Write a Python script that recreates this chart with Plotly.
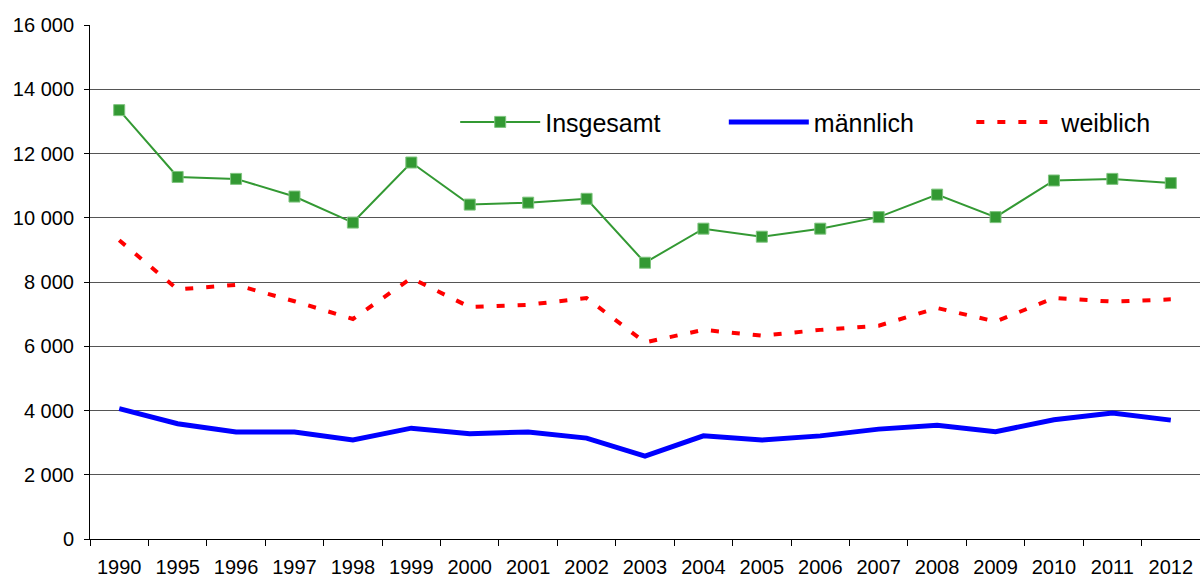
import plotly.graph_objects as go

years = ["1990", "1995", "1996", "1997", "1998", "1999", "2000", "2001", "2002", "2003",
         "2004", "2005", "2006", "2007", "2008", "2009", "2010", "2011", "2012"]
insgesamt = [13350, 11270, 11210, 10660, 9850, 11720, 10410, 10470, 10590, 8600,
             9660, 9410, 9660, 10020, 10720, 10020, 11160, 11210, 11080]
maennlich = [4060, 3590, 3330, 3330, 3080, 3450, 3280, 3330, 3140, 2580,
             3210, 3080, 3210, 3420, 3540, 3340, 3710, 3920, 3700]
weiblich = [9300, 7770, 7910, 7400, 6850, 8120, 7220, 7290, 7500, 6120,
            6510, 6330, 6510, 6640, 7190, 6770, 7500, 7390, 7460]
y_ticks = [0, 2000, 4000, 6000, 8000, 10000, 12000, 14000, 16000]

fig = go.Figure()
fig.add_trace(go.Scatter(
    x=years, y=insgesamt, name="Insgesamt", mode="lines+markers",
    line=dict(color="#339933", width=2),
    marker=dict(symbol="square", size=11, color="#339933",
                line=dict(color="#7fc47f", width=1)),
    legend="legend",
))
fig.add_trace(go.Scatter(
    x=years, y=maennlich, name="männlich", mode="lines",
    line=dict(color="#0000ff", width=5),
    legend="legend2",
))
fig.add_trace(go.Scatter(
    x=years, y=weiblich, name="weiblich", mode="lines",
    line=dict(color="#ff0000", width=4, dash="8px,13px"),
    legend="legend3",
))

legend_style = dict(
    orientation="h", y=0.811, xanchor="left", yanchor="middle",
    bgcolor="rgba(0,0,0,0)", font=dict(size=25), itemwidth=80,
)

fig.update_layout(
    width=1200, height=580,
    margin=dict(l=90, r=0, t=25, b=41),
    paper_bgcolor="white", plot_bgcolor="white",
    separators=", ",
    font=dict(family="Liberation Sans, Arial, sans-serif", size=20, color="black"),
    showlegend=True,
    legend=dict(x=0.329, **legend_style),
    legend2=dict(x=0.571, **legend_style),
    legend3=dict(x=0.794, **legend_style),
    xaxis=dict(
        type="category", range=[-0.5, 18.5], tickson="boundaries",
        ticks="outside", ticklen=6, ticklabelstandoff=10,
        tickcolor="black", showline=True, linecolor="black", linewidth=1,
        showgrid=False, tickfont=dict(size=20), automargin=False,
    ),
    yaxis=dict(
        range=[0, 16000], tickvals=y_ticks, tickformat=",d",
        ticks="outside", ticklen=5, tickcolor="black", ticklabelstandoff=6,
        showline=True, linecolor="black", linewidth=1,
        showgrid=True, gridcolor="#555555", gridwidth=1,
        zeroline=False, tickfont=dict(size=20), automargin=False,
    ),
)

fig.write_html(
    "out.html",
    config={"displayModeBar": False},
    post_script="document.body.style.margin='0';document.body.style.overflow='hidden';",
)
